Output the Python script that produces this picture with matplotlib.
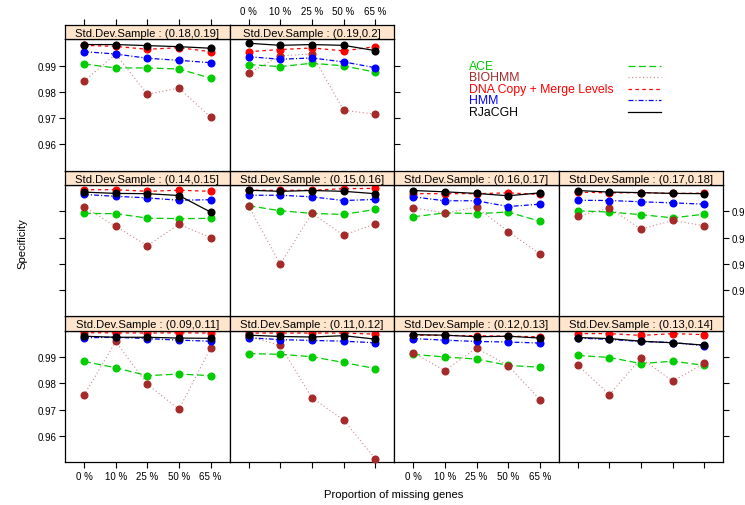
import matplotlib
matplotlib.use("Agg")
import matplotlib.pyplot as plt

plt.rcParams['font.family'] = ['Liberation Sans', 'DejaVu Sans']
plt.rcParams['lines.scale_dashes'] = False

# proportion of missing genes (x axis levels)
missing = ['0 %', '10 %', '25 %', '50 %', '65 %']
# conditioning intervals of the sample standard deviation
intervals = ['(0.09,0.11]', '(0.11,0.12]', '(0.12,0.13]', '(0.13,0.14]',
             '(0.14,0.15]', '(0.15,0.16]', '(0.16,0.17]', '(0.17,0.18]',
             '(0.18,0.19]', '(0.19,0.2]']

# specificity per method, one row per interval
ace = [[0.9883, 0.9859, 0.9829, 0.9835, 0.9829],
       [0.9913, 0.9910, 0.9901, 0.9879, 0.9856],
       [0.9910, 0.9900, 0.9892, 0.9868, 0.9861],
       [0.9906, 0.9898, 0.9875, 0.9884, 0.9868],
       [0.9892, 0.9891, 0.9874, 0.9872, 0.9873],
       [0.9921, 0.9902, 0.9892, 0.9888, 0.9907],
       [0.9879, 0.9894, 0.9891, 0.9897, 0.9862],
       [0.9902, 0.9897, 0.9887, 0.9875, 0.9889],
       [0.9906, 0.9891, 0.9891, 0.9887, 0.9852],
       [0.9904, 0.9896, 0.9909, 0.9899, 0.9875]]
biohmm = [[0.9754, 0.9959, 0.9796, 0.9701, 0.9934],
          [0.9978, 0.9944, 0.9745, 0.9660, 0.9513],
          [0.9916, 0.9848, 0.9934, 0.9867, 0.9738],
          [0.9869, 0.9757, 0.9895, 0.9808, 0.9876],
          [0.9917, 0.9843, 0.9769, 0.9850, 0.9800],
          [0.9920, 0.9698, 0.9893, 0.9809, 0.9852],
          [0.9914, 0.9893, 0.9916, 0.9823, 0.9738],
          [0.9881, 0.9913, 0.9832, 0.9865, 0.9845],
          [0.9840, 0.9944, 0.9791, 0.9814, 0.9704],
          [0.9871, 0.9937, 0.9944, 0.9730, 0.9715]]
dnacopy = [[0.9992, 0.9992, 0.9991, 0.9992, 0.9991],
           [0.9991, 0.9991, 0.9991, 0.9991, 0.9987],
           [0.9983, 0.9982, 0.9981, 0.9979, 0.9977],
           [0.9989, 0.9989, 0.9982, 0.9989, 0.9985],
           [0.9982, 0.9982, 0.9976, 0.9980, 0.9976],
           [0.9980, 0.9980, 0.9980, 0.9986, 0.9987],
           [0.9967, 0.9967, 0.9967, 0.9970, 0.9964],
           [0.9973, 0.9970, 0.9971, 0.9968, 0.9969],
           [0.9977, 0.9973, 0.9962, 0.9968, 0.9953],
           [0.9953, 0.9961, 0.9967, 0.9956, 0.9972]]
hmm = [[0.9973, 0.9975, 0.9970, 0.9964, 0.9960],
       [0.9973, 0.9966, 0.9963, 0.9960, 0.9954],
       [0.9970, 0.9964, 0.9959, 0.9957, 0.9953],
       [0.9972, 0.9967, 0.9959, 0.9955, 0.9943],
       [0.9964, 0.9957, 0.9951, 0.9942, 0.9944],
       [0.9961, 0.9961, 0.9955, 0.9941, 0.9945],
       [0.9955, 0.9940, 0.9940, 0.9918, 0.9927],
       [0.9942, 0.9941, 0.9936, 0.9932, 0.9927],
       [0.9953, 0.9944, 0.9928, 0.9920, 0.9911],
       [0.9934, 0.9924, 0.9929, 0.9914, 0.9892]]
rjacgh = [[0.9979, 0.9975, 0.9975, 0.9972, 0.9971],
          [0.9983, 0.9978, 0.9976, 0.9981, 0.9968],
          [0.9985, 0.9983, 0.9977, 0.9979, 0.9972],
          [0.9974, 0.9970, 0.9960, 0.9954, 0.9945],
          [0.9973, 0.9968, 0.9967, 0.9960, 0.9897],
          [0.9980, 0.9976, 0.9979, 0.9976, 0.9967],
          [0.9979, 0.9974, 0.9968, 0.9959, 0.9970],
          [0.9979, 0.9973, 0.9971, 0.9968, 0.9967],
          [0.9980, 0.9980, 0.9976, 0.9972, 0.9966],
          [0.9985, 0.9977, 0.9980, 0.9977, 0.9957]]

methods = ['ACE', 'BIOHMM', 'DNA Copy + Merge Levels', 'HMM', 'RJaCGH']
series = [ace, biohmm, dnacopy, hmm, rjacgh]
colors = ['#00CD00', '#A52A2A', '#FF0000', '#0000FF', '#000000']
line_alpha = [1, 0.55, 1, 1, 1]
styles = [(0, (5, 2.5)), (0, (0.8, 1.8)), (0, (2.5, 2.5)),
          (0, (3.5, 1.5, 0.8, 1.5)), '-']
yticks = [0.96, 0.97, 0.98, 0.99]

W, H = 745, 506
fig = plt.figure(figsize=(W / 100, H / 100), dpi=100)

left0, pw = 65, 164.6
top0, sh, ph = 26, 14.3, 131.4
tick_len = 4.2
fs_tick = 7
fs_strip = 8.1


def fx(px):
    return px / W


def fy(py):
    return 1 - py / H


x = list(range(1, len(missing) + 1))
for i, lab in enumerate(intervals):
    row = 2 - i // 4
    col = i % 4
    l = left0 + col * pw
    st = top0 + row * (sh + ph)
    pt = st + sh
    ax = fig.add_axes([fx(l), fy(pt + ph), pw / W, ph / H])
    for k in range(len(methods)):
        c = colors[k]
        ax.plot(x, series[k][i], color=c, linestyle=styles[k],
                lw=0.8 if k == 1 else 0.9, alpha=line_alpha[k],
                clip_on=False, zorder=2 + k)
        ax.plot(x, series[k][i], linestyle='none', marker='o', ms=4.8,
                mec=c, mfc=c, clip_on=False, zorder=2 + k)
    ax.set_xlim(0.4, 5.6)
    ax.set_ylim(0.95, 1.0)
    ax.set_xticks(x)
    ax.set_yticks(yticks)
    for s in ax.spines.values():
        s.set_linewidth(0.9)

    # axes drawn only on the outer sides of the layout
    last_in_row = (col == 3) or (i == len(intervals) - 1)
    ax.tick_params(direction='out', length=tick_len, width=0.8,
                   labelsize=fs_tick, colors='black', pad=2,
                   left=(col == 0), right=last_in_row,
                   bottom=(row == 2), top=False,
                   labelleft=(col == 0 and row != 1),
                   labelright=(last_in_row and row == 1),
                   labelbottom=(row == 2 and col % 2 == 0),
                   labeltop=False)
    ax.set_xticklabels(missing)
    ax.set_yticklabels(['%.2f' % v for v in yticks])

    # strip above the panel; top row carries the top axis on it
    sa = fig.add_axes([fx(l), fy(pt), pw / W, sh / H])
    sa.set_facecolor('#FFE5CC')
    sa.set_xlim(0.4, 5.6)
    sa.set_yticks([])
    if row == 0:
        sa.set_xticks(x)
        sa.set_xticklabels(missing)
        sa.tick_params(direction='out', length=tick_len, width=0.8,
                       labelsize=fs_tick, pad=2, bottom=False,
                       labelbottom=False, top=True,
                       labeltop=(col % 2 == 1))
    else:
        sa.set_xticks([])
    for s in sa.spines.values():
        s.set_linewidth(0.9)
    sa.text(0.5, 0.45, 'Std.Dev.Sample : ' + lab, ha='center', va='center',
            fontsize=fs_strip, transform=sa.transAxes)

# legend in the empty upper-right area
lx_text, lx0, lx1 = 469, 628, 661
ly0, ldy = 66.7, 11.5
for k, name in enumerate(methods):
    yy = fy(ly0 + k * ldy)
    fig.text(fx(lx_text), yy, name, color=colors[k], fontsize=8.8,
             ha='left', va='center')
    fig.add_artist(plt.Line2D([fx(lx0), fx(lx1)], [yy, yy], color=colors[k],
                              linestyle=styles[k], lw=0.9,
                              alpha=line_alpha[k]))

fig.text(fx(22), fy(244), 'Specificity', rotation=90, ha='center',
         va='center', fontsize=fs_strip)
fig.text(fx(394), fy(495), 'Proportion of missing genes', ha='center',
         va='center', fontsize=fs_strip)

fig.savefig('out.png', dpi=100)
